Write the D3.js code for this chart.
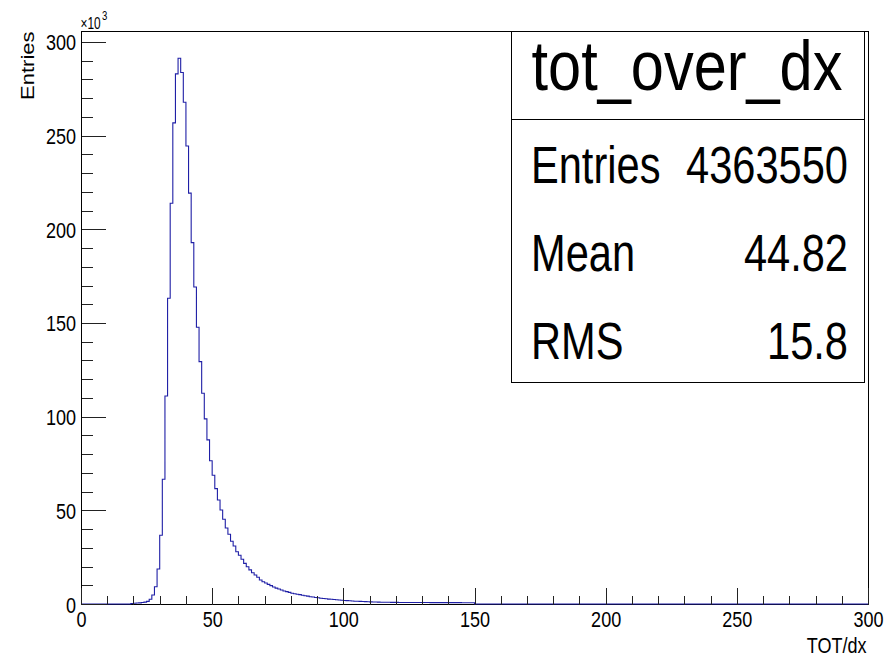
<!DOCTYPE html>
<html>
<head>
<meta charset="utf-8">
<script src="https://cdn.jsdelivr.net/npm/d3@7"></script>
<style>
  body { margin: 0; background: #fff; }
  text { font-family: "Liberation Sans", Arial, Helvetica, sans-serif; fill: #000; }
</style>
</head>
<body>
<svg id="chart" width="889" height="658"></svg>
<script>
// bin contents (x10^3 entries), one bin per unit of TOT/dx, 0..300
const counts = [
  0, 0, 0, 0, 0, 0, 0, 0, 0, 0,
  0, 0, 0, 0, 0, 0, 0, 0, 0, 0.3,
  0.4, 0.5, 0.6, 0.8, 1.0, 1.4, 2.5, 4.8, 9.2, 18.7,
  36.7, 66.6, 111.0, 163.2, 213.9, 256.8, 283.0, 291.3, 283.7, 267.8,
  244.5, 219.3, 192.9, 169.2, 147.7, 129.4, 112.5, 98.8, 87.6, 76.5,
  68.7, 61.6, 55.5, 50.2, 45.2, 40.6, 37.2, 33.5, 31.0, 27.9,
  26.0, 23.9, 21.7, 19.9, 18.2, 16.7, 15.5, 14.3, 12.8, 11.9,
  11.2, 10.5, 9.8, 9.1, 8.5, 8.0, 7.5, 6.9, 6.6, 6.2,
  5.7, 5.5, 5.2, 5.0, 4.7, 4.4, 4.2, 3.9, 3.7, 3.5,
  3.3, 3.1, 2.9, 2.8, 2.6, 2.5, 2.4, 2.3, 2.1, 2.0,
  1.9, 1.8, 1.7, 1.6, 1.5, 1.45, 1.4, 1.3, 1.25, 1.2,
  1.15, 1.1, 1.05, 1.0, 0.97, 0.94, 0.92, 0.9, 0.88, 0.86,
  0.85, 0.84, 0.83, 0.82, 0.81, 0.8, 0.8, 0.79, 0.79, 0.78,
  0.78, 0.77, 0.77, 0.76, 0.76, 0.75, 0.75, 0.74, 0.74, 0.73,
  0.73, 0.72, 0.72, 0.71, 0.71, 0.7, 0.7, 0.69, 0.69, 0.68,
  0, 0, 0, 0, 0, 0, 0, 0, 0, 0,
  0, 0, 0, 0, 0, 0, 0, 0, 0, 0,
  0, 0, 0, 0, 0, 0, 0, 0, 0, 0,
  0, 0, 0, 0, 0, 0, 0, 0, 0, 0,
  0, 0, 0, 0, 0, 0, 0, 0, 0, 0,
  0, 0, 0, 0, 0, 0, 0, 0, 0, 0,
  0, 0, 0, 0, 0, 0, 0, 0, 0, 0,
  0, 0, 0, 0, 0, 0, 0, 0, 0, 0,
  0, 0, 0, 0, 0, 0, 0, 0, 0, 0,
  0, 0, 0, 0, 0, 0, 0, 0, 0, 0,
  0, 0, 0, 0, 0, 0, 0, 0, 0, 0,
  0, 0, 0, 0, 0, 0, 0, 0, 0, 0,
  0, 0, 0, 0, 0, 0, 0, 0, 0, 0,
  0, 0, 0, 0, 0, 0, 0, 0, 0, 0,
  0, 0, 0, 0, 0, 0, 0, 0, 0, 0
];
const xLow = 0, xHigh = 300;
const yMax = 305.6;
const xTicks = [0, 50, 100, 150, 200, 250, 300];
const yTicks = [0, 50, 100, 150, 200, 250, 300];
const xMinorTicks = [0,10,20,30,40,50,60,70,80,90,100,110,120,130,140,150,160,170,180,190,200,210,220,230,240,250,260,270,280,290,300];
const yMinorTicks = [0,10,20,30,40,50,60,70,80,90,100,110,120,130,140,150,160,170,180,190,200,210,220,230,240,250,260,270,280,290,300];
const histName = 'tot_over_dx';
const statNames = ['Entries', 'Mean', 'RMS'];
const statValues = ['4363550', '44.82', '15.8'];

const svg = d3.select('#chart');
const x = d3.scaleLinear().domain([xLow, xHigh]).range([81, 868]);
const y = d3.scaleLinear().domain([0, yMax]).range([604, 31.5]);

// squeezed text, like the narrow rendering in the picture
function txt(str, px, py, size, anchor, sx) {
  return svg.append('text')
    .attr('transform', 'translate(' + px + ',' + py + ') scale(' + sx + ',1)')
    .attr('text-anchor', anchor)
    .attr('font-size', size)
    .text(str);
}

// frame
svg.append('rect')
  .attr('x', x.range()[0] + 0.5).attr('y', y.range()[1])
  .attr('width', x.range()[1] - x.range()[0]).attr('height', y.range()[0] - y.range()[1] + 0.5)
  .attr('fill', 'none').attr('stroke', '#000').attr('shape-rendering', 'crispEdges');

// histogram outline
let pts = counts.map((c, i) => [xLow + i, c]);
pts.push([xHigh, counts[counts.length - 1]]);
let line = d3.line().x(d => x(d[0])).y(d => y(d[1])).curve(d3.curveStepAfter);
svg.append('path').attr('d', line(pts))
  .attr('fill', 'none').attr('stroke', '#1f1fa6').attr('stroke-width', 1.1);

// ticks (pointing into the frame)
function tickAxis(axis, tr) {
  let g = svg.append('g').attr('transform', tr).call(axis);
  g.select('.domain').remove();
  g.selectAll('line').attr('stroke', '#222').attr('shape-rendering', 'crispEdges');
  return g;
}
tickAxis(d3.axisLeft(y).tickValues(yTicks).tickSize(-24).tickFormat(''), 'translate(81.5,0)');
tickAxis(d3.axisLeft(y).tickValues(yMinorTicks).tickSize(-11).tickFormat(''), 'translate(81.5,0)');
tickAxis(d3.axisBottom(x).tickValues(xTicks).tickSize(-17).tickFormat(''), 'translate(0,604.5)');
tickAxis(d3.axisBottom(x).tickValues(xMinorTicks).tickSize(-9).tickFormat(''), 'translate(0,604.5)');

// tick labels
yTicks.forEach(v => txt(v, 76, y(v) + 8.5, 22, 'end', 0.82));
xTicks.forEach(v => txt(v, x(v) + 0.5, 627, 22, 'middle', 0.82));

// exponent
txt('\u00d710', 80.5, 28.5, 17, 'start', 0.7);
txt('3', 102, 19.5, 12, 'start', 0.8);

// axis titles
svg.append('text')
  .attr('transform', 'translate(33.5,' + y.range()[1] + ') scale(0.82,1) rotate(-90)')
  .attr('text-anchor', 'end').attr('font-size', 22).text('Entries');
txt('TOT/dx', 866.5, 653, 22, 'end', 0.82);

// stats box
let box = {x0: 511.5, x1: 864.5, y0: 31.5, y1: 382.5, split: 119.5};
svg.append('rect').attr('x', box.x0).attr('y', box.y0)
  .attr('width', box.x1 - box.x0).attr('height', box.y1 - box.y0)
  .attr('fill', '#fff').attr('stroke', '#000').attr('shape-rendering', 'crispEdges');
svg.append('line').attr('x1', box.x0).attr('x2', box.x1).attr('y1', box.split).attr('y2', box.split)
  .attr('stroke', '#000').attr('shape-rendering', 'crispEdges');
txt(histName, 687, 90, 70, 'middle', 0.85);
let rowBase = [182.5, 270.5, 358.5];
statNames.forEach((s, i) => {
  txt(s, 531, rowBase[i], 52, 'start', 0.8);
  txt(statValues[i], 848, rowBase[i], 52, 'end', 0.8);
});
</script>
</body>
</html>
